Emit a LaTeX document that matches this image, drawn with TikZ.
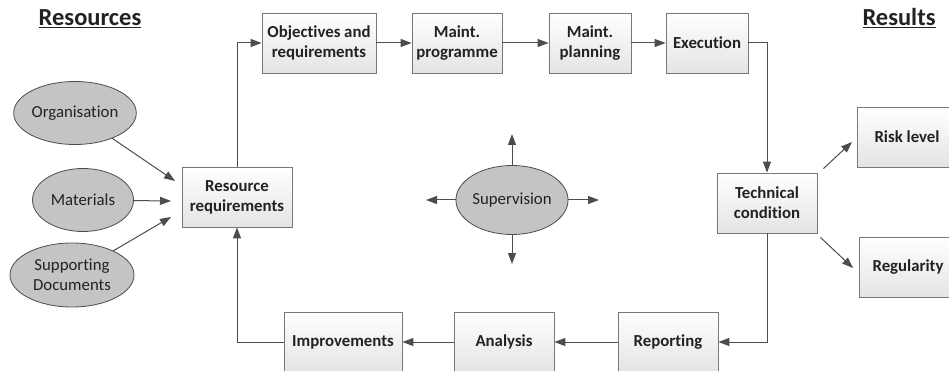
\documentclass[tikz,border=0pt]{standalone}
\usepackage{fontspec}
\setmainfont{Carlito}[Ligatures=NoCommon,Contextuals=NoAlternate]
\usetikzlibrary{arrows.meta,shapes.geometric,calc}
\definecolor{arr}{HTML}{4D4D4D}
\definecolor{boxc}{HTML}{777777}
\definecolor{boxbot}{HTML}{E4E4E4}
\definecolor{ovalc}{HTML}{C4C4C4}
\definecolor{txt}{HTML}{222222}
\begin{document}
\begin{tikzpicture}[x=1pt,y=-1pt,
  box/.style={draw=boxc, line width=0.8pt, top color=white, bottom color=boxbot,
    minimum height=60pt, align=center, text=txt,
    font=\fontsize{16.8}{20}\selectfont\bfseries, inner sep=0pt},
  oval/.style={ellipse, draw=arr, fill=ovalc, line width=0.8pt, align=center, text=txt,
    font=\fontsize{16.8}{20}\selectfont, inner sep=0pt},
  conn/.style={draw=arr, line width=1pt, -{Triangle[length=11pt,width=8pt]}},
  head/.style={font=\fontsize{24.5}{28}\selectfont\bfseries, text=txt, anchor=base, inner sep=0pt}]
\useasboundingbox (0,0) rectangle (949,371);
\clip (0,0) rectangle (949,371);
% headings
\node[head] (hres) at (90,26) {\underline{Resources}};
\node[head] (hresu) at (899,26) {\underline{Results}};
% top row
\node[box, minimum width=114pt] (obj) at (319,43) {Objectives and\\requirements};
\node[box, minimum width=90pt] (prog) at (457,43) {Maint.\\programme};
\node[box, minimum width=82pt] (plan) at (590,43) {Maint.\\planning};
\node[box, minimum width=82pt] (exec) at (707,43) {Execution};
% right
\node[box, minimum width=100pt] (tech) at (767,203) {Technical\\condition};
\node[box, minimum width=100pt] (risk) at (907,137) {Risk level};
\node[box, minimum width=98pt] (reg) at (908,267) {Regularity};
% bottom row
\node[box, minimum width=100pt] (rep) at (668,342) {Reporting};
\node[box, minimum width=100pt] (ana) at (504,342) {Analysis};
\node[box, minimum width=118pt] (imp) at (343,342) {Improvements};
% left
\node[box, minimum width=110pt] (rr) at (237,197) {Resource\\requirements};
\node[oval, minimum width=116pt, minimum height=63pt] (org) at (75,113) {Organisation};
\node[oval, minimum width=101pt, minimum height=63pt] (mat) at (83,200) {Materials};
\node[oval, minimum width=124pt, minimum height=64pt] (docs) at (72,275) {Supporting\\Documents};
\node[oval, minimum width=99pt, minimum height=69pt] (sup) at (512,200) {Supervision};
% free ends
\coordinate (t1) at (175,181);
\coordinate (t2) at (171,201);
\coordinate (t3) at (171,217);
\coordinate (s1) at (512,134);
\coordinate (s2) at (512,264);
\coordinate (s3) at (426,200);
\coordinate (s4) at (599,200);
\coordinate (r1) at (852,142);
\coordinate (r2) at (853,268);
% connectors
\draw[conn] (obj.east) -- (prog.west);
\draw[conn] (prog.east) -- (plan.west);
\draw[conn] (plan.east) -- (exec.west);
\draw[conn] (exec.east) -| (tech.north);
\draw[conn] (tech.south) |- (rep.east);
\draw[conn] (rep.west) -- (ana.east);
\draw[conn] (ana.west) -- (imp.east);
\draw[conn] (imp.west) -| (rr.south);
\draw[conn] (rr.north) |- (obj.west);
\draw[conn] (org) -- (t1);
\draw[conn] (mat) -- (t2);
\draw[conn] (docs) -- (t3);
\draw[conn] (sup.north) -- (s1);
\draw[conn] (sup.south) -- (s2);
\draw[conn] (sup.west) -- (s3);
\draw[conn] (sup.east) -- (s4);
\draw[conn] ($(tech.north east)+(6,-4)$) -- (r1);
\draw[conn] ($(tech.south east)+(3,4)$) -- (r2);
\end{tikzpicture}
\end{document}
